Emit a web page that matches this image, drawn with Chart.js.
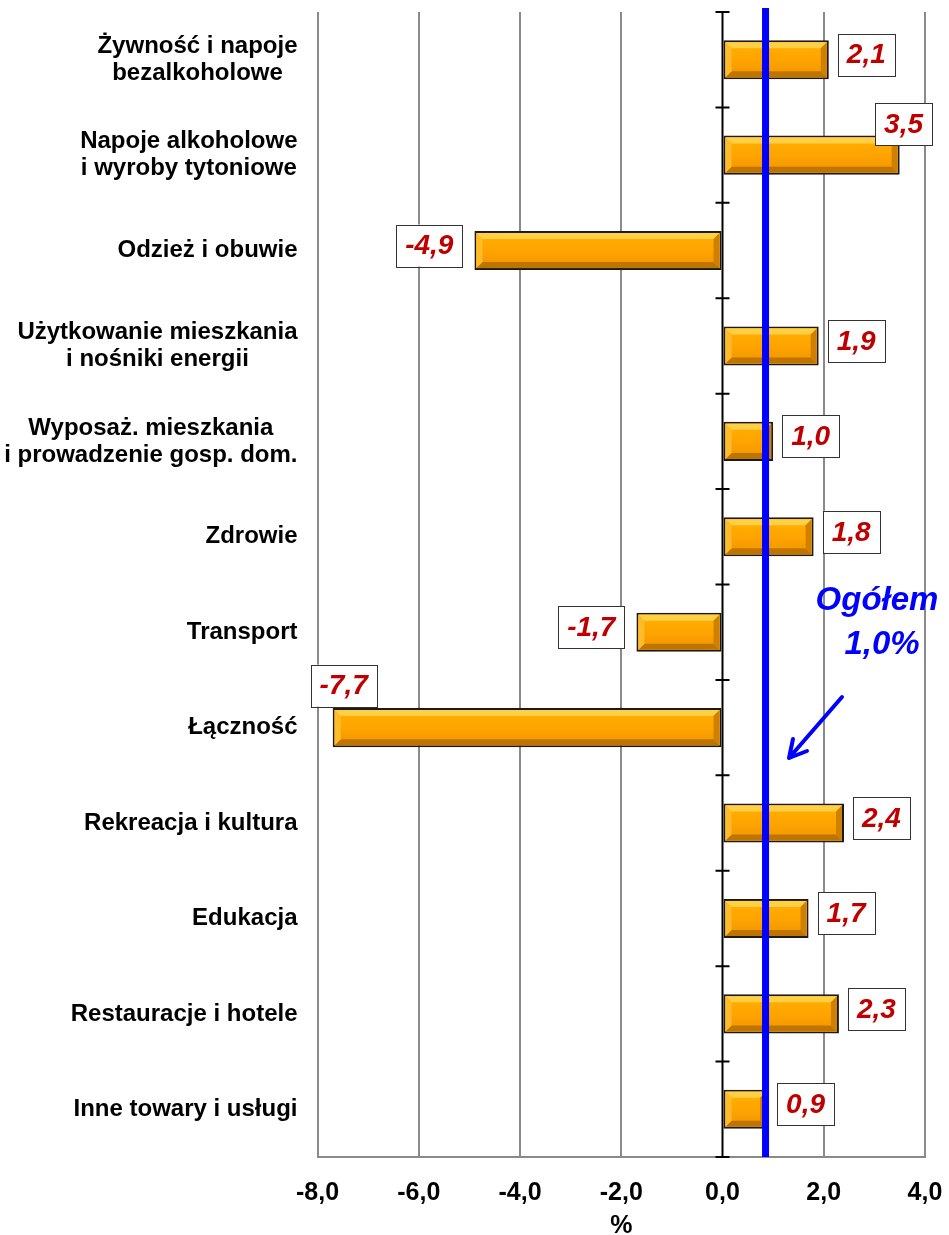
<!DOCTYPE html>
<html>
<head>
<meta charset="utf-8">
<script src="https://cdn.jsdelivr.net/npm/chart.js@4.4.1/dist/chart.umd.min.js"></script>
<style>
  html, body { margin: 0; padding: 0; background: #ffffff; }
  #wrap { position: relative; width: 949px; height: 1235px; }
</style>
</head>
<body>
<div id="wrap"><canvas id="c" width="949" height="1235"></canvas></div>
<script>
// ---- DATA ----
const categories = [
  ['Żywność i napoje', 'bezalkoholowe'],
  ['Napoje alkoholowe', 'i wyroby tytoniowe'],
  ['Odzież i obuwie'],
  ['Użytkowanie mieszkania', 'i nośniki energii'],
  ['Wyposaż. mieszkania', 'i prowadzenie gosp. dom.'],
  ['Zdrowie'],
  ['Transport'],
  ['Łączność'],
  ['Rekreacja i kultura'],
  ['Edukacja'],
  ['Restauracje i hotele'],
  ['Inne towary i usługi']
];
const values = [2.1, 3.5, -4.9, 1.9, 1.0, 1.8, -1.7, -7.7, 2.4, 1.7, 2.3, 0.9];
const xTickMin = -8, xTickMax = 4, xTickStep = 2;
const overallValue = 1.0;          // "Ogółem 1,0%"
const overallLinePosition = 0.85;  // where the blue line is drawn in the picture
const axisTitle = '%';

// ---- helpers ----
const fmt = v => v.toFixed(1).replace('.', ',');
const FONT = '"Liberation Sans", Arial, Helvetica, sans-serif';

const labelNudge = { 1: { dy: -26 }, 7: { dy: -37 } };

const decorPlugin = {
  id: 'decor',
  beforeDatasetsDraw(chart) {
    const { ctx, chartArea: a, scales } = chart;
    const x0 = scales.x.getPixelForValue(0);
    ctx.save();
    ctx.strokeStyle = '#000';
    ctx.lineWidth = 2;
    ctx.beginPath();
    ctx.moveTo(x0, a.top);
    ctx.lineTo(x0, a.bottom);
    const n = categories.length;
    const step = (a.bottom - a.top) / n;
    for (let i = 0; i <= n; i++) {
      const y = a.top + i * step;
      ctx.moveTo(x0 - 7, y);
      ctx.lineTo(x0 + 7, y);
    }
    ctx.stroke();
    ctx.restore();
  },
  afterDatasetsDraw(chart) {
    const { ctx, chartArea: a, scales } = chart;
    const meta = chart.getDatasetMeta(0);
    // bevel effect
    meta.data.forEach(bar => {
      const p = bar.getProps(['x', 'y', 'base', 'height'], true);
      const l = Math.min(p.x, p.base) + 2, r = Math.max(p.x, p.base) - 2;
      const t = p.y - p.height / 2 + 2, b = p.y + p.height / 2 - 2;
      const bv = Math.min(6, (r - l) / 2, (b - t) / 2);
      const poly = (pts, col) => {
        ctx.beginPath();
        ctx.moveTo(pts[0][0], pts[0][1]);
        for (let k = 1; k < pts.length; k++) ctx.lineTo(pts[k][0], pts[k][1]);
        ctx.closePath();
        ctx.fillStyle = col;
        ctx.fill();
      };
      ctx.save();
      const g = ctx.createLinearGradient(0, t, 0, b);
      g.addColorStop(0, '#FFB000');
      g.addColorStop(0.5, '#FFA400');
      g.addColorStop(1, '#F09500');
      ctx.fillStyle = g;
      ctx.fillRect(l, t, r - l, b - t);
      poly([[l, t], [r, t], [r - bv, t + bv], [l + bv, t + bv]], '#FFCF45');
      poly([[l, b], [r, b], [r - bv, b - bv], [l + bv, b - bv]], '#C07400');
      poly([[l, t], [l + bv, t + bv], [l + bv, b - bv], [l, b]], '#FFBC2A');
      poly([[r, t], [r - bv, t + bv], [r - bv, b - bv], [r, b]], '#CF8000');
      ctx.restore();
    });
    // overall line
    const xl = scales.x.getPixelForValue(overallLinePosition);
    ctx.save();
    ctx.strokeStyle = '#0000FF';
    ctx.lineWidth = 7;
    ctx.beginPath();
    ctx.moveTo(xl, a.top - 4);
    ctx.lineTo(xl, a.bottom);
    ctx.stroke();
    ctx.restore();
  },
  afterDraw(chart) {
    const { ctx, chartArea: a, scales } = chart;
    const meta = chart.getDatasetMeta(0);
    // category labels
    ctx.save();
    ctx.font = 'bold 24px ' + FONT;
    ctx.fillStyle = '#000';
    ctx.textAlign = 'center';
    ctx.textBaseline = 'middle';
    const rightEdge = a.left - 20;
    categories.forEach((lines, i) => {
      const yc = scales.y.getPixelForValue(i);
      const w = Math.max(...lines.map(s => ctx.measureText(s).width));
      const xc = rightEdge - w / 2;
      const lh = 27;
      lines.forEach((s, k) => {
        ctx.fillText(s, xc, yc + (k - (lines.length - 1) / 2) * lh);
      });
    });
    ctx.restore();

    // value labels
    ctx.save();
    ctx.font = 'italic bold 28px ' + FONT;
    ctx.textAlign = 'center';
    ctx.textBaseline = 'middle';
    meta.data.forEach((bar, i) => {
      const v = values[i];
      const p = bar.getProps(['x', 'y', 'base', 'height'], true);
      const txt = fmt(v);
      const bw = ctx.measureText(txt).width + 18;
      const bh = 42;
      let bx = v >= 0 ? p.x + 9 : p.x - 12 - bw;
      let by = p.y - 5 - bh / 2;
      if (bx + bw > a.right + 7) bx = a.right + 7 - bw;
      if (bx < a.left - 7) bx = a.left - 7;
      if (labelNudge[i]) by += labelNudge[i].dy;
      ctx.fillStyle = '#fff';
      ctx.fillRect(bx, by, bw, bh);
      ctx.strokeStyle = '#333';
      ctx.lineWidth = 1;
      ctx.strokeRect(Math.round(bx) + 0.5, Math.round(by) + 0.5, Math.round(bw), bh);
      ctx.fillStyle = '#C00000';
      ctx.fillText(txt, bx + bw / 2, by + bh / 2 + 1);
    });
    ctx.restore();

    // annotation
    ctx.save();
    ctx.fillStyle = '#0000FF';
    ctx.font = 'italic bold 33px ' + FONT;
    ctx.textAlign = 'center';
    ctx.textBaseline = 'alphabetic';
    ctx.fillText('Ogółem', 877, 610);
    ctx.fillText(fmt(overallValue) + '%', 882, 654);
    // arrow
    ctx.strokeStyle = '#0000FF';
    ctx.lineWidth = 4;
    ctx.lineCap = 'round';
    ctx.beginPath();
    ctx.moveTo(842, 697);
    ctx.lineTo(789, 758);
    ctx.moveTo(789, 758);
    ctx.lineTo(793, 739);
    ctx.moveTo(789, 758);
    ctx.lineTo(807, 751);
    ctx.stroke();
    ctx.restore();
  }
};

new Chart(document.getElementById('c'), {
  type: 'bar',
  data: {
    labels: categories,
    datasets: [{
      data: values,
      backgroundColor: '#FFA500',
      borderColor: '#1a1a1a',
      borderWidth: 2,
      borderSkipped: false,
      barPercentage: 0.41,
      categoryPercentage: 1.0
    }]
  },
  options: {
    indexAxis: 'y',
    responsive: false,
    animation: false,
    events: [],
    layout: { padding: { left: 317.5, right: 24, top: 12, bottom: 0 } },
    plugins: { legend: { display: false }, tooltip: { enabled: false } },
    scales: {
      y: { display: false },
      x: {
        min: xTickMin,
        max: xTickMax,
        afterFit: scale => {
          scale.height = 78;
          scale.paddingLeft = 0;
          scale.paddingRight = 0;
        },
        ticks: {
          stepSize: xTickStep,
          padding: 21,
          color: '#000',
          font: { family: FONT, size: 25, weight: 'bold' },
          callback: v => fmt(v)
        },
        grid: {
          drawTicks: false,
          color: ctx => (ctx.tick && ctx.tick.value === 0) ? 'rgba(0,0,0,0)' : '#8a8a8a',
          lineWidth: 2
        },
        border: { display: true, color: '#8a8a8a', width: 2 },
        title: {
          display: true,
          text: axisTitle,
          color: '#000',
          font: { family: FONT, size: 25, weight: 'bold' },
          padding: { top: 0, bottom: -6 }
        }
      }
    }
  },
  plugins: [decorPlugin]
});
</script>
</body>
</html>
